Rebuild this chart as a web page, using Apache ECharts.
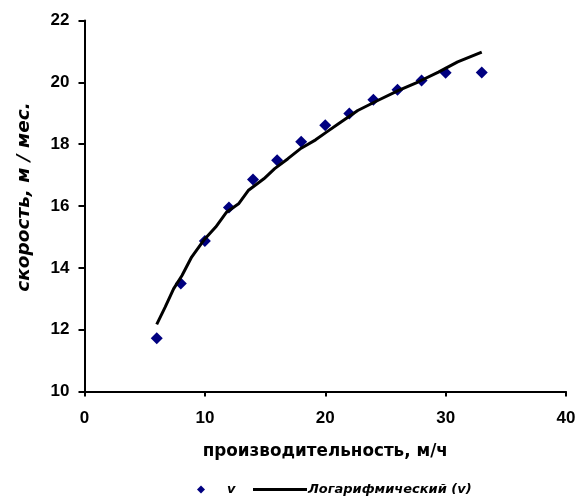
<!DOCTYPE html>
<html>
<head>
<meta charset="utf-8">
<script src="https://cdn.jsdelivr.net/npm/echarts@6/dist/echarts.min.js"></script>
<style>html,body{margin:0;padding:0;background:#fff}#c{width:580px;height:502px}</style>
</head>
<body>
<div id="c"></div>
<script>
// Observed data (производительность, м/ч -> скорость, м/мес.)
const xValues = [6, 8, 10, 12, 14, 16, 18, 20, 22, 24, 26, 28, 30, 33];
const vValues = [11.72, 13.49, 14.87, 15.95, 16.86, 17.48, 18.08, 18.61, 18.99, 19.44, 19.76, 20.06, 20.31, 20.32];
// Logarithmic trend line
const trendX = [6, 6.7, 7.4, 8.1, 8.9, 9.9, 10.9, 11.8, 12.8, 13.6, 14.9, 15.8, 16.9, 18.0, 19.2, 20.1, 21.1, 22.7, 24.4, 26.1, 27.7, 29.4, 31.0, 33];
const trendY = [12.17, 12.73, 13.32, 13.75, 14.35, 14.89, 15.32, 15.80, 16.07, 16.50, 16.88, 17.21, 17.53, 17.87, 18.14, 18.39, 18.66, 19.09, 19.42, 19.74, 20.01, 20.33, 20.66, 20.98];
// Axis settings
const xTicks = { min: 0, max: 40, interval: 10 };
const yTicks = { min: 10, max: 22, interval: 2 };
const xName = 'производительность, м/ч';
const yName = 'скорость, м / мес.';
const seriesV = 'v';
const seriesTrend = 'Логарифмический (v)';

const scatterData = xValues.map((x, i) => [x, vValues[i]]);
const trendData = trendX.map((x, i) => [x, trendY[i]]);

const chart = echarts.init(document.getElementById('c'), null, { renderer: 'canvas' });
const tickFont = { color: '#000', fontFamily: 'Liberation Sans', fontWeight: 'bold', fontSize: 17 };
chart.setOption({
  backgroundColor: '#fff',
  animation: false,
  grid: { left: 84.5, right: 14, top: 20.5, bottom: 110.5, containLabel: false },
  xAxis: {
    type: 'value', min: xTicks.min, max: xTicks.max, interval: xTicks.interval,
    name: xName, nameLocation: 'middle', nameGap: 52,
    nameTextStyle: { color: '#000', fontFamily: 'DejaVu Sans', fontWeight: 'bold', fontSize: 16.8 },
    axisLine: { show: true, onZero: false, lineStyle: { color: '#000', width: 2 } },
    axisTick: { show: true, inside: false, length: 5, lineStyle: { color: '#000', width: 2 } },
    axisLabel: Object.assign({ margin: 18 }, tickFont),
    splitLine: { show: false }
  },
  yAxis: {
    type: 'value', min: yTicks.min, max: yTicks.max, interval: yTicks.interval,
    name: yName, nameLocation: 'middle', nameGap: 51,
    nameTextStyle: { color: '#000', fontFamily: 'DejaVu Sans', fontWeight: 'bold', fontStyle: 'italic', fontSize: 18.5, padding: [0, 0, 0, 18] },
    axisLine: { show: true, onZero: false, lineStyle: { color: '#000', width: 2 } },
    axisTick: { show: true, inside: false, length: 6, lineStyle: { color: '#000', width: 2 } },
    axisLabel: Object.assign({ margin: 15 }, tickFont),
    splitLine: { show: false }
  },
  legend: [
    {
      data: [{ name: seriesV, icon: 'diamond' }],
      left: 192, top: 478, itemWidth: 8, itemHeight: 8,
      itemStyle: { color: '#000080', opacity: 1 },
      textStyle: { color: '#000', fontFamily: 'DejaVu Sans', fontWeight: 'bold', fontStyle: 'italic', fontSize: 13, padding: [0, 0, 0, 17] }
    },
    {
      data: [{ name: seriesTrend, icon: 'rect' }],
      left: 248, top: 478, itemWidth: 54, itemHeight: 3,
      itemStyle: { color: '#000' },
      textStyle: { color: '#000', fontFamily: 'DejaVu Sans', fontWeight: 'bold', fontStyle: 'italic', fontSize: 13, padding: [0, 0, 0, -4] }
    }
  ],
  series: [
    {
      name: seriesV, type: 'scatter', data: scatterData,
      symbol: 'diamond', symbolSize: 12,
      itemStyle: { color: '#000080', opacity: 1 }, z: 2
    },
    {
      name: seriesTrend, type: 'line', data: trendData,
      showSymbol: false, symbol: 'none', smooth: false,
      lineStyle: { color: '#000', width: 3 }, itemStyle: { color: '#000' }, z: 3
    }
  ]
});
</script>
</body>
</html>
